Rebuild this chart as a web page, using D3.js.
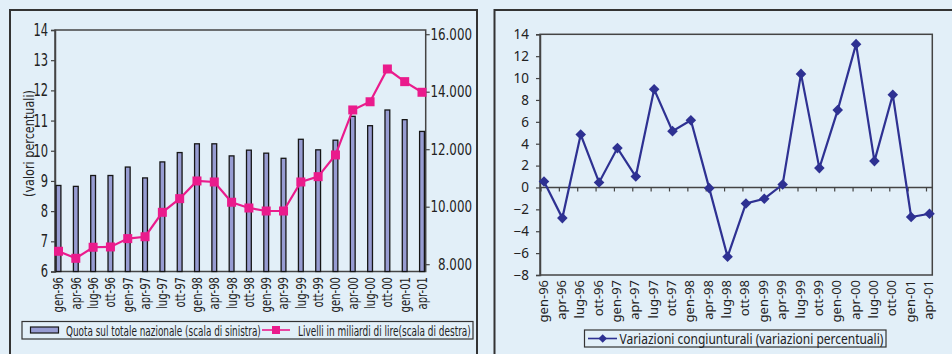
<!DOCTYPE html>
<html>
<head>
<meta charset="utf-8">
<script src="https://cdn.jsdelivr.net/npm/d3@7"></script>
<style>
  body { margin: 0; background: #e2eff8; }
  svg { display: block; }
  .narrow { font-family: "DejaVu Sans Condensed", "DejaVu Sans", sans-serif; }
  .reg { font-family: "Noto Sans", "DejaVu Sans", sans-serif; }
</style>
</head>
<body>
<svg id="chart" width="952" height="354"></svg>
<script>
// Quarters, Jan 1996 - Apr 2001
const quarters = ["gen-96","apr-96","lug-96","ott-96","gen-97","apr-97","lug-97","ott-97",
  "gen-98","apr-98","lug-98","ott-98","gen-99","apr-99","lug-99","ott-99",
  "gen-00","apr-00","lug-00","ott-00","gen-01","apr-01"];

// Share of national total (%), left scale
const quota = [8.85, 8.82, 9.18, 9.18, 9.46, 9.10, 9.63, 9.94,
  10.23, 10.23, 9.83, 10.02, 9.92, 9.75, 10.38, 10.03,
  10.35, 11.14, 10.83, 11.35, 11.03, 10.64];

// Levels in billions of lire, right scale
const livelli = [8450, 8205, 8590, 8600, 8890, 8955, 9805, 10280,
  10895, 10860, 10155, 9955, 9850, 9850, 10860, 11045,
  11800, 13365, 13650, 14790, 14350, 13980];

// Quarter-on-quarter change (%)
const variazioni = [0.55, -2.8, 4.84, 0.46, 3.6, 1.0, 8.98, 5.15,
  6.15, -0.06, -6.33, -1.46, -1.03, 0.27, 10.38, 1.77,
  7.07, 13.1, 2.41, 8.47, -2.7, -2.4];

const leftTicks = [6, 7, 8, 9, 10, 11, 12, 13, 14];
const rightTicks = [8000, 10000, 12000, 14000, 16000];
const varTicks = [-8, -6, -4, -2, 0, 2, 4, 6, 8, 10, 12, 14];

const barFill = "#979cd2", barStroke = "#161616";
const pink = "#ea1b8c", navy = "#2e3192";
const axisCol = "#444";

const itLocale = d3.formatLocale({ decimal: ",", thousands: ".", grouping: [3], currency: ["", ""] });
const fmtThousands = itLocale.format(",d");

// squeeze text horizontally to mimic a narrow typeface
function condense(sel, k) {
  sel.each(function () {
    const w = this.getComputedTextLength();
    d3.select(this).attr("textLength", w * k).attr("lengthAdjust", "spacingAndGlyphs");
  });
}
// place a text at (x, y) and scale it horizontally to a given width
function fitAt(sel, x, y, w, rot) {
  sel.each(function () {
    const k = w / this.getComputedTextLength();
    d3.select(this).attr("x", 0).attr("y", 0)
      .attr("transform", `translate(${x},${y})${rot ? ` rotate(${rot})` : ""} scale(${k},1)`);
  });
}

const svg = d3.select("#chart");

// ---------- left panel ----------
const L = svg.append("g");
L.append("rect").attr("x", 10).attr("y", 10).attr("width", 467).attr("height", 380)
  .attr("fill", "none").attr("stroke", "#333").attr("stroke-width", 2);

const lx = d3.scalePoint().domain(quarters).range([58.5, 422]);
const ly = d3.scaleLinear().domain([6, 14]).range([271.5, 30]);
const ry = d3.scaleLinear().domain([8000, 16000]).range([264.2, 34.2]);
const lLeft = 55, lRight = 425.7;

// plot frame
L.append("rect").attr("x", lLeft).attr("y", ly(14)).attr("width", lRight - lLeft)
  .attr("height", ly(6) - ly(14)).attr("fill", "none").attr("stroke", axisCol).attr("stroke-width", 1.5);

// left axis
const gLy = L.append("g").attr("transform", `translate(${lLeft},0)`)
  .call(d3.axisLeft(ly).tickValues(leftTicks).tickSize(4).tickPadding(3).tickFormat(d3.format("d")));
gLy.select(".domain").attr("stroke", axisCol).attr("stroke-width", 1.5);
gLy.selectAll(".tick line").attr("stroke", axisCol).attr("stroke-width", 1.2);
gLy.selectAll(".tick text").attr("class", "narrow").attr("font-size", 17).attr("fill", "#222")
  .call(condense, 0.75);

// right axis (labels right-aligned)
const gRy = L.append("g").attr("transform", `translate(${lRight},0)`)
  .call(d3.axisRight(ry).tickValues(rightTicks).tickSize(4).tickFormat(fmtThousands));
gRy.select(".domain").remove();
gRy.selectAll(".tick line").attr("stroke", axisCol).attr("stroke-width", 1.2);
gRy.selectAll(".tick text").attr("class", "narrow").attr("font-size", 16.5).attr("fill", "#222")
  .attr("text-anchor", "end").attr("x", 472 - lRight)
  .call(condense, 0.8);

// category labels
L.append("g").selectAll("text").data(quarters).join("text")
  .attr("class", "narrow").attr("font-size", 14).attr("fill", "#222")
  .attr("text-anchor", "end").attr("dy", "0.35em")
  .attr("transform", d => `translate(${lx(d)},277) rotate(-90)`)
  .text(d => d)
  .call(condense, 0.8);

// y title
L.append("text").attr("class", "narrow").attr("font-size", 14).attr("fill", "#222")
  .attr("text-anchor", "middle").attr("dy", "0.35em")
  .text("(valori percentuali)")
  .call(fitAt, 29, 143.5, 107, -90);

// bars
L.append("g").selectAll("rect").data(quota).join("rect")
  .attr("x", (d, i) => lx(quarters[i]) - 2.4).attr("width", 4.8)
  .attr("y", d => ly(d)).attr("height", d => ly(6) - ly(d))
  .attr("fill", barFill).attr("stroke", barStroke).attr("stroke-width", 1.3);

// levels line
const lvLine = d3.line().x((d, i) => lx(quarters[i])).y(d => ry(d));
L.append("path").datum(livelli).attr("d", lvLine)
  .attr("fill", "none").attr("stroke", pink).attr("stroke-width", 2.2);
L.append("g").selectAll("rect").data(livelli).join("rect")
  .attr("x", (d, i) => lx(quarters[i]) - 4.5).attr("y", d => ry(d) - 4.5)
  .attr("width", 9).attr("height", 9).attr("fill", pink);

// legend
const lg = L.append("g");
lg.append("rect").attr("x", 22).attr("y", 321.5).attr("width", 451).attr("height", 17.5)
  .attr("fill", "none").attr("stroke", "#333").attr("stroke-width", 1.2);
lg.append("rect").attr("x", 30.5).attr("y", 327).attr("width", 28).attr("height", 6)
  .attr("fill", barFill).attr("stroke", barStroke).attr("stroke-width", 1.2);
lg.append("text").attr("class", "narrow").attr("font-size", 14).attr("fill", "#222")
  .text("Quota sul totale nazionale (scala di sinistra)")
  .call(fitAt, 66, 335.5, 195);
lg.append("line").attr("x1", 262).attr("x2", 290).attr("y1", 330).attr("y2", 330)
  .attr("stroke", pink).attr("stroke-width", 1.6);
lg.append("rect").attr("x", 272).attr("y", 326).attr("width", 8).attr("height", 8).attr("fill", pink);
lg.append("text").attr("class", "narrow").attr("font-size", 14).attr("fill", "#222")
  .text("Livelli in miliardi di lire(scala di destra)")
  .call(fitAt, 298, 335.5, 173);

// ---------- right panel ----------
const R = svg.append("g");
R.append("rect").attr("x", 494.5).attr("y", 10).attr("width", 480).attr("height", 380)
  .attr("fill", "none").attr("stroke", "#333").attr("stroke-width", 2);

const vx = d3.scalePoint().domain(quarters).range([544, 929.5]);
const vy = d3.scaleLinear().domain([-8, 14]).range([275, 34.3]);
const vLeft = 540, vRight = 932.3;

R.append("rect").attr("x", vLeft).attr("y", vy(14)).attr("width", vRight - vLeft)
  .attr("height", vy(-8) - vy(14)).attr("fill", "none").attr("stroke", axisCol).attr("stroke-width", 1.5);

const gVy = R.append("g").attr("transform", `translate(${vLeft},0)`)
  .call(d3.axisLeft(vy).tickValues(varTicks).tickSize(4).tickPadding(7).tickFormat(d3.format("d")));
gVy.select(".domain").attr("stroke", axisCol).attr("stroke-width", 1.5);
gVy.selectAll(".tick line").attr("stroke", axisCol).attr("stroke-width", 1.2);
gVy.selectAll(".tick text").attr("class", "reg").attr("font-size", 13.5).attr("fill", "#222");

// zero line with category ticks
const gVx = R.append("g").attr("transform", `translate(0,${vy(0)})`)
  .call(d3.axisBottom(vx).tickSize(4).tickFormat(""));
gVx.select(".domain").attr("d", `M${vLeft},0H${vRight}`).attr("stroke", axisCol).attr("stroke-width", 1.5);
gVx.selectAll(".tick line").attr("stroke", axisCol).attr("stroke-width", 1.2)
  .attr("transform", "translate(-3.5,0)");

// category labels
R.append("g").selectAll("text").data(quarters).join("text")
  .attr("class", "reg").attr("font-size", 13).attr("fill", "#222")
  .attr("text-anchor", "end").attr("dy", "0.35em")
  .attr("transform", d => `translate(${vx(d) - 1},280) rotate(-90)`)
  .text(d => d);

// variation line
const vLine = d3.line().x((d, i) => vx(quarters[i])).y(d => vy(d));
R.append("path").datum(variazioni).attr("d", vLine)
  .attr("fill", "none").attr("stroke", navy).attr("stroke-width", 2.2);
const diamond = d3.symbol().type(d3.symbolSquare).size(56);
R.append("g").selectAll("path").data(variazioni).join("path")
  .attr("d", diamond)
  .attr("transform", (d, i) => `translate(${vx(quarters[i])},${vy(d)}) rotate(45)`)
  .attr("fill", navy);

// legend
const rg = R.append("g");
rg.append("rect").attr("x", 584.5).attr("y", 330).attr("width", 301.5).attr("height", 17)
  .attr("fill", "none").attr("stroke", "#333").attr("stroke-width", 1.2);
rg.append("line").attr("x1", 588).attr("x2", 617).attr("y1", 338.5).attr("y2", 338.5)
  .attr("stroke", navy).attr("stroke-width", 1.6);
rg.append("path").attr("d", d3.symbol().type(d3.symbolSquare).size(36))
  .attr("transform", "translate(602.7,338.5) rotate(45)").attr("fill", navy);
rg.append("text").attr("class", "reg").attr("font-size", 14.5).attr("fill", "#222")
  .text("Variazioni congiunturali (variazioni percentuali)")
  .call(fitAt, 619.5, 343.5, 264);
</script>
</body>
</html>
